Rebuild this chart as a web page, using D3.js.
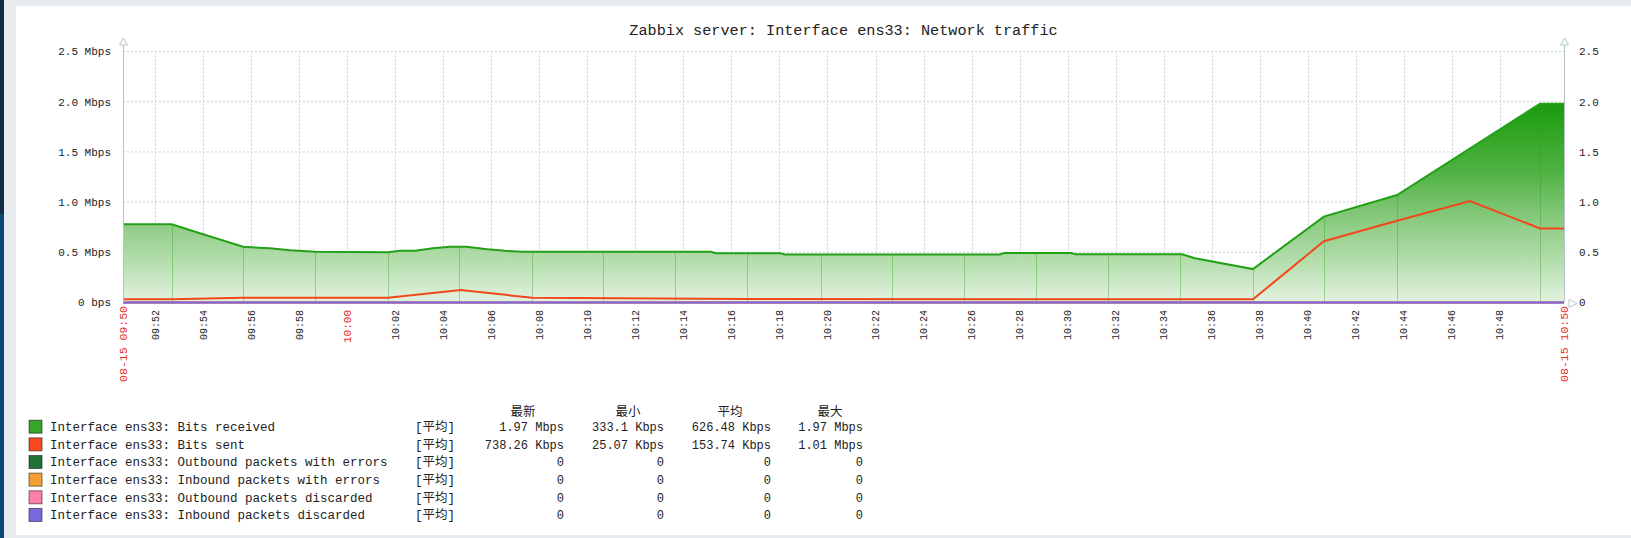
<!DOCTYPE html>
<html><head><meta charset="utf-8">
<script src="https://cdn.jsdelivr.net/npm/d3@7"></script>
<style>html,body{margin:0;padding:0;background:#fff;overflow:hidden}</style>
</head><body>
<svg id="c" width="1631" height="538"></svg>
<script>
// ---------- DATA ----------
const title = "Zabbix server: Interface ens33: Network traffic";
const startLabel = "08-15 09:50", endLabel = "08-15 10:50";
const timeStart = "09:50:40", timeEnd = "10:50:40";
const xTickLabels = ["09:52","09:54","09:56","09:58","10:00","10:02","10:04","10:06","10:08","10:10",
  "10:12","10:14","10:16","10:18","10:20","10:22","10:24","10:26","10:28","10:30","10:32","10:34",
  "10:36","10:38","10:40","10:42","10:44","10:46","10:48"];
const redTickLabels = ["10:00"];
const yTicks = [0, 0.5, 1.0, 1.5, 2.0, 2.5];
const yLeftLabels = ["0 bps","0.5 Mbps","1.0 Mbps","1.5 Mbps","2.0 Mbps","2.5 Mbps"];
const yRightLabels = ["0","0.5","1.0","1.5","2.0","2.5"];

// Bits received (Mbps)
const receivedTimes = ["09:50:40","09:52:42","09:53:52","09:55:40","09:56:47","09:57:37","09:58:40",
  "10:01:42","10:02:12","10:02:50","10:03:34","10:04:17","10:04:58","10:05:50","10:06:34","10:07:16",
  "10:15:09","10:15:21","10:18:02","10:18:14","10:27:10","10:27:22","10:30:08","10:30:20","10:34:46",
  "10:35:18","10:37:43","10:40:40","10:43:43","10:49:40","10:50:40"];
const receivedValues = [0.78,0.78,0.69,0.555,0.54,0.52,0.505,
  0.50,0.515,0.515,0.54,0.555,0.555,0.53,0.515,0.505,
  0.505,0.49,0.49,0.478,0.478,0.493,0.493,0.48,0.48,
  0.44,0.333,0.855,1.07,1.98,1.98];
// Bits sent (Mbps)
const sentTimes = ["09:50:40","09:52:42","09:55:40","10:01:42","10:04:44","10:07:42","10:16:40",
  "10:37:43","10:40:40","10:43:43","10:46:45","10:49:40","10:50:40"];
const sentValues = [0.032,0.032,0.047,0.047,0.125,0.047,0.034,0.032,0.61,0.815,1.01,0.738,0.738];
// other series (all zero)
const zeroTimes = ["09:50:40","10:50:40"];
const zeroValues = [0,0];
// polling sample instants (polygon edges of the filled area)
const sampleTimes = ["09:52:42","09:55:40","09:58:40","10:01:42","10:04:40","10:07:42","10:10:40",
  "10:13:38","10:16:40","10:19:43","10:22:40","10:25:40","10:28:42","10:31:40","10:34:40","10:37:43",
  "10:40:40","10:43:43","10:49:40"];

const seriesNames = ["Interface ens33: Bits received","Interface ens33: Bits sent",
  "Interface ens33: Outbound packets with errors","Interface ens33: Inbound packets with errors",
  "Interface ens33: Outbound packets discarded","Interface ens33: Inbound packets discarded"];
const seriesColors = ["#35a52b","#f94a1d","#1e7236","#f5a035","#fb7fad","#7a6ae0"];
const funcLabel = "[平均]";
const statHeaders = ["最新","最小","平均","最大"];
const lastVals = ["1.97 Mbps","738.26 Kbps","0","0","0","0"];
const minVals  = ["333.1 Kbps","25.07 Kbps","0","0","0","0"];
const avgVals  = ["626.48 Kbps","153.74 Kbps","0","0","0","0"];
const maxVals  = ["1.97 Mbps","1.01 Mbps","0","0","0","0"];

// ---------- DRAW ----------
const FONT = "'Liberation Mono','Noto Sans CJK SC',monospace";
const svg = d3.select("#c");
const parse = d3.timeParse("%H:%M:%S");
const pL = 123, pR = 1564, pT = 51.5, pB = 302.5;
const x = d3.scaleTime().domain([parse(timeStart), parse(timeEnd)]).range([pL, pR]);
const y = d3.scaleLinear().domain([0, 2.5]).range([pB, pT]);

// page frame
svg.append("rect").attr("width",1631).attr("height",538).attr("fill","#e9ecef");
svg.append("rect").attr("x",16).attr("y",6).attr("width",1615).attr("height",529).attr("fill","#ffffff");
svg.append("rect").attr("x",0).attr("y",0).attr("width",4).attr("height",214).attr("fill","#0f2b46");
svg.append("rect").attr("x",0).attr("y",214).attr("width",4).attr("height",324).attr("fill","#0b4a72");

const defs = svg.append("defs");
const grad = defs.append("linearGradient").attr("id","gfill")
  .attr("gradientUnits","userSpaceOnUse").attr("x1",0).attr("x2",0)
  .attr("y1", y(2.0)).attr("y2", y(0));
[[0,"#199a0b"],[0.35,"#4fb243"],[0.6,"#8ccb82"],[0.8,"#b5deae"],[1,"#e4f3e1"]].forEach(s=>
  grad.append("stop").attr("offset",s[0]).attr("stop-color",s[1]));

// title
svg.append("text").attr("x",(pL+pR)/2).attr("y",35).attr("text-anchor","middle")
  .attr("font-family",FONT).attr("font-size",15.2).attr("fill","#222").text(title);

// grid
const gridColor = "#c5cfd6";
const g = svg.append("g");
yTicks.filter(v=>v>0).forEach(v=>{
  g.append("line").attr("x1",pL).attr("x2",pR).attr("y1",y(v)).attr("y2",y(v))
   .attr("stroke",gridColor).attr("stroke-dasharray","2,2");
});
xTickLabels.forEach(l=>{
  const xx = Math.round(x(parse(l+":00")))+0.5;
  g.append("line").attr("x1",xx).attr("x2",xx).attr("y1",pT).attr("y2",pB)
   .attr("stroke",gridColor).attr("stroke-dasharray","2,2");
});

// received area
const rec = receivedTimes.map((t,i)=>({t:parse(t), v:receivedValues[i]}));
const area = d3.area().x(d=>x(d.t)).y0(y(0)).y1(d=>y(d.v));
const line = d3.line().x(d=>x(d.t)).y(d=>y(d.v));
svg.append("path").attr("d",area(rec)).attr("fill","url(#gfill)");
defs.append("clipPath").attr("id","aclip").append("path").attr("d",area(rec));
const edges = svg.append("g").attr("clip-path","url(#aclip)");
sampleTimes.forEach(t=>{
  const xx = Math.round(x(parse(t)))+0.5;
  edges.append("line").attr("x1",xx).attr("x2",xx).attr("y1",pT).attr("y2",pB)
    .attr("stroke","#2a9a1e").attr("stroke-opacity",0.35);
});
svg.append("path").attr("d",line(rec)).attr("fill","none").attr("stroke","#22a018").attr("stroke-width",2);

// sent line
const sent = sentTimes.map((t,i)=>({t:parse(t), v:sentValues[i]}));
svg.append("path").attr("d",line(sent)).attr("fill","none").attr("stroke","#f2481b").attr("stroke-width",2);

// zero series
const zero = zeroTimes.map((t,i)=>({t:parse(t), v:zeroValues[i]}));
[2,3,4,5].forEach(i=>{
  svg.append("path").attr("d",line(zero)).attr("fill","none").attr("stroke",seriesColors[i]).attr("stroke-width",2);
});

// axes
const axC = "#b7c5cd";
[pL,pR].forEach(ax=>{
  svg.append("line").attr("x1",ax+0.5).attr("x2",ax+0.5).attr("y1",45).attr("y2",pB).attr("stroke",axC);
  svg.append("path").attr("d",`M${ax+0.5},38 L${ax+4.5},45 L${ax-3.5},45 Z`).attr("fill","#fff").attr("stroke",axC);
});
svg.append("path").attr("d",`M${pR+13},${pB+1} L${pR+5},${pB-3} L${pR+5},${pB+5} Z`).attr("fill","#fff").attr("stroke",axC);

// y labels
yTicks.forEach((v,i)=>{
  svg.append("text").attr("x",111).attr("y",y(v)).attr("dy","0.35em").attr("text-anchor","end")
    .attr("font-family",FONT).attr("font-size",11).attr("fill","#222").text(yLeftLabels[i]);
  svg.append("text").attr("x",1579).attr("y",y(v)).attr("dy","0.35em")
    .attr("font-family",FONT).attr("font-size",11).attr("fill","#222").text(yRightLabels[i]);
});

// x labels
xTickLabels.forEach(l=>{
  const xx = x(parse(l+":00"));
  const red = redTickLabels.includes(l);
  svg.append("text").attr("transform",`translate(${xx},310) rotate(-90)`)
    .attr("text-anchor","end").attr("dy","0.35em").attr("font-family",FONT)
    .attr("font-size", red?11:10).attr("fill", red?"#e8312b":"#222").text(l);
});
[[pL,startLabel],[pR,endLabel]].forEach(([xx,l])=>{
  svg.append("text").attr("transform",`translate(${xx},306) rotate(-90)`)
    .attr("text-anchor","end").attr("dy","0.35em").attr("font-family",FONT)
    .attr("font-size",11.5).attr("fill","#e8312b").text(l);
});

// legend
const rowY0 = 426.7, rowH = 17.65;
const colRight = [564,664,771,863];
const colCenter = [523,628,730,830];
statHeaders.forEach((h,j)=>{
  svg.append("text").attr("x",colCenter[j]).attr("y",412).attr("dy","0.35em").attr("text-anchor","middle")
    .attr("font-family",FONT).attr("font-size",12.5).attr("fill","#222").text(h);
});
const stats = [lastVals,minVals,avgVals,maxVals];
seriesNames.forEach((n,i)=>{
  const cy = rowY0 + i*rowH;
  svg.append("rect").attr("x",29).attr("y",cy-6.5).attr("width",13).attr("height",13)
    .attr("fill",seriesColors[i]).attr("stroke","rgba(0,0,0,0.5)").attr("stroke-width",1);
  svg.append("text").attr("x",50).attr("y",cy).attr("dy","0.35em").attr("font-family",FONT)
    .attr("font-size",12.5).attr("fill","#222").text(n);
  svg.append("text").attr("x",415).attr("y",cy).attr("dy","0.35em").attr("font-family",FONT)
    .attr("font-size",12.5).attr("fill","#222").text(funcLabel);
  stats.forEach((arr,j)=>{
    svg.append("text").attr("x",colRight[j]).attr("y",cy).attr("dy","0.35em").attr("text-anchor","end")
      .attr("font-family",FONT).attr("font-size",12).attr("fill","#222").text(arr[i]);
  });
});
</script>
</body></html>
